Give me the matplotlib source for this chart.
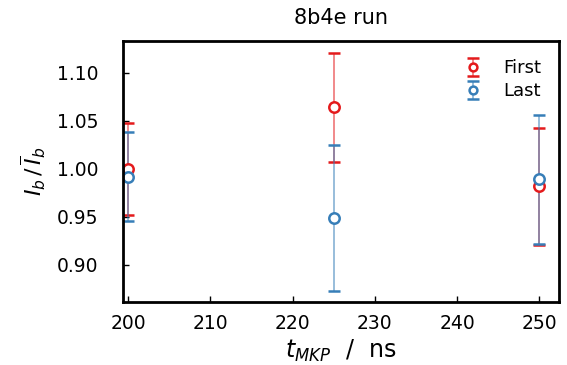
import numpy as np
import matplotlib.pyplot as plt

t_mkp = [200, 225, 250]
first_val = [1.000, 1.064, 0.982]
first_err = [0.048, 0.057, 0.061]
last_val = [0.992, 0.949, 0.989]
last_err = [0.046, 0.076, 0.067]

plt.rcParams['font.family'] = 'DejaVu Sans'
plt.rcParams['mathtext.fontset'] = 'dejavusans'

fig, ax = plt.subplots(figsize=(5.67, 3.65), dpi=100)

for vals, errs, color, label in [(first_val, first_err, '#e41a1c', 'First'),
                                 (last_val, last_err, '#377eb8', 'Last')]:
    eb = ax.errorbar(t_mkp, vals, yerr=errs, fmt='o', color=color, ecolor=color,
                     mfc='white', mec=color, mew=1.8, ms=7.5, elinewidth=1.1,
                     capsize=4.5, capthick=2, label=label)
    eb[2][0].set_alpha(0.65)

ax.set_xlim(199.4, 252.4)
ax.set_ylim(0.8615, 1.1333)
ax.set_xticks([200, 210, 220, 230, 240, 250])
ax.set_yticks([0.90, 0.95, 1.00, 1.05, 1.10])
ax.tick_params(direction='in', labelsize=13.5, length=4, width=1)
ax.tick_params(axis='y', pad=18)
ax.tick_params(axis='x', pad=9)
for sp in ax.spines.values():
    sp.set_linewidth(2)

ax.set_title('8b4e run', fontsize=15, pad=12)
ax.set_xlabel(r'$t_{MKP}$  /  ns', fontsize=17, labelpad=3)
ax.set_ylabel(r'$I_b\,/\,\overline{I}_b$', fontsize=16, labelpad=6)
ax.legend(loc='upper right', frameon=False, fontsize=13, handletextpad=0.9,
          borderaxespad=0.6, labelspacing=0.3, markerscale=0.75, handlelength=1.5)

fig.subplots_adjust(left=0.217, right=0.986, top=0.888, bottom=0.173)
fig.savefig('out.png', dpi=100)
